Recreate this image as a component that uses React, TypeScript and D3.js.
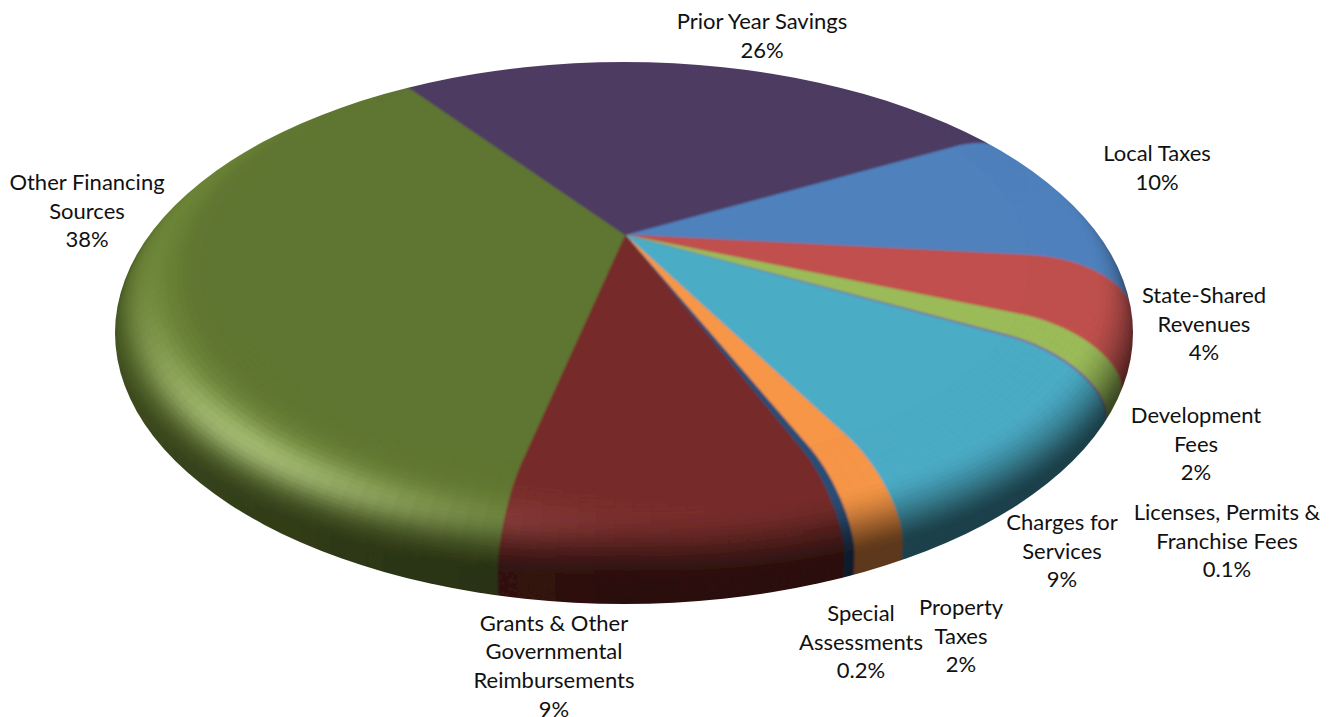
import React from "react";
import * as d3 from "d3";

const categories = ["Local Taxes","State-Shared Revenues","Development Fees","Licenses, Permits & Franchise Fees","Charges for Services","Property Taxes","Special Assessments","Grants & Other Governmental Reimbursements","Other Financing Sources","Prior Year Savings"];
const sliceShares = [9.5,4.5,1.6,0.1,9.2,1.5,0.3,9.7,36.4,27.1];
const sliceColors = ["#4F81BD","#C0504D","#9BBB59","#8064A2","#4BACC6","#F79646","#2C4D75","#772C2A","#5F7530","#4D3B62"];
const labelLines = [["Local Taxes","10%"],["State-Shared","Revenues","4%"],["Development","Fees","2%"],["Licenses, Permits &","Franchise Fees","0.1%"],["Charges for","Services","9%"],["Property","Taxes","2%"],["Special","Assessments","0.2%"],["Grants & Other","Governmental","Reimbursements","9%"],["Other Financing","Sources","38%"],["Prior Year Savings","26%"]];
const labelCenterX = [1157,1204,1196,1227,1062,961,861,554,87,762];
const labelFirstBaseline = [161,303,423,520,530,615,621,630.5,190,29];

const W = 1330, H = 717;
const LINE = 28.7;
const startFraction = 0.171;
const sil = { cx: 624, cy: 333, rx: 509, ry: 271 };
const top = { cx: 625, cy: 270, rx: 437, ry: 220, a: 0.16 };
const D = 55;
const RHO0 = 0.93;
const TAU = Math.PI * 2;
const rad = (deg: number) => (deg * Math.PI) / 180;
const sm = (e0: number, e1: number, x: number) => { const t = Math.max(0, Math.min(1, (x - e0) / (e1 - e0))); return t * t * (3 - 2 * t); };

function proj(theta: number, rho: number, phi: number): [number, number] {
  const u = rho * Math.sin(theta), v = -rho * Math.cos(theta);
  const den = 1 - top.a * v;
  const vp = (v - top.a) / den;
  const up = (u * Math.sqrt(1 - top.a * top.a)) / den;
  return [top.cx + top.rx * up, top.cy + top.ry * vp + D * (1 - Math.cos(phi))];
}
const bevelWidth = (theta: number) => 0.165 + 0.065 * Math.abs(Math.sin(theta));
const profile = (phi: number) => (phi <= Math.PI / 2 ? Math.sin(phi) : 0.75 + 0.25 * Math.sin(phi));
const bevelPoint = (theta: number, phi: number) => proj(theta, RHO0 + bevelWidth(theta) * profile(phi), phi);

function shade(color: string, theta: number, phi: number) {
  const deg = (theta * 180) / Math.PI;
  const pd = (phi * 180) / Math.PI;
  const c = Math.cos(theta - rad(150));
  const leftness = Math.max(0, Math.sin(theta - Math.PI));
  const dk = Math.max(0, Math.min(0.62, 0.3 + 0.38 * c + 0.2 * leftness * leftness));
  const dark = 1 - dk * sm(38, 92, pd);
  const lift = 0.13 * leftness * sm(8, 40, pd);
  const d0 = ((deg - 224 + 540) % 360) - 180;
  const spec = 62 * Math.exp(-((d0 / 26) ** 2)) * Math.exp(-(((pd - 50) / 15) ** 2));
  const rgb = d3.rgb(color);
  const f = (ch: number) => Math.min(255, Math.round(ch * dark * (1 + lift) + spec));
  return d3.rgb(f(rgb.r), f(rgb.g), f(rgb.b)).formatHex();
}

const pieLayout = d3.pie<number>().sort(null).startAngle(startFraction * TAU).endAngle((startFraction + 1) * TAU);
const arcs = pieLayout(sliceShares);
const poly = d3.line<[number, number]>().x((d) => d[0]).y((d) => d[1]);
const closed = (pts: [number, number][]) => (poly(pts) || "") + "Z";
const PHI_MAX = rad(165);
const PHI_N = 48;
const phiSteps = d3.range(0, PHI_N + 1).map((i) => (i / PHI_N) * PHI_MAX);

export default function App() {
  const base: React.ReactNode[] = [];
  const flat: React.ReactNode[] = [];
  const mesh: React.ReactNode[][] = phiSteps.map(() => []);
  arcs.forEach((a, i) => {
    const n = Math.max(1, Math.ceil((a.endAngle - a.startAngle) / rad(2)));
    const thetas = d3.range(0, n + 1).map((k) => a.startAngle + ((a.endAngle - a.startAngle) * k) / n);
    const apex = proj(0, 0, 0);
    const col = sliceColors[i];
    const edge = shade(col, (a.startAngle + a.endAngle) / 2, PHI_MAX);
    const outer = thetas.map((t) => { const p = proj(t, 1, 0); return [apex[0] + (p[0] - apex[0]) * 1.8, apex[1] + (p[1] - apex[1]) * 1.8] as [number, number]; });
    base.push(<path key={i} d={closed([apex, ...outer])} fill={edge} stroke={edge} strokeWidth={0.5} />);
    flat.push(<path key={i} d={closed([apex, ...thetas.map((t) => proj(t, RHO0, 0))])} fill={col} stroke={col} strokeWidth={0.6} />);
    for (let p = 0; p < PHI_N; p++) {
      for (let k = 0; k < n; k++) {
        const t0 = thetas[k], t1 = thetas[k + 1], f0 = phiSteps[p], f1 = phiSteps[p + 1];
        const fill = shade(col, (t0 + t1) / 2, (f0 + f1) / 2);
        mesh[p].push(<path key={`${i}-${p}-${k}`} d={closed([bevelPoint(t0, f0), bevelPoint(t1, f0), bevelPoint(t1, f1), bevelPoint(t0, f1)])} fill={fill} stroke={fill} strokeWidth={0.7} />);
      }
    }
  });
  return (
    <svg width={W} height={H} viewBox={`0 0 ${W} ${H}`} style={{ position: "absolute", left: 0, top: 0 }}>
      <defs>
        <clipPath id="silhouette"><ellipse cx={sil.cx} cy={sil.cy} rx={sil.rx} ry={sil.ry} /></clipPath>
        <filter id="soft" filterUnits="userSpaceOnUse" x={0} y={0} width={W} height={H}><feGaussianBlur stdDeviation={0.8} /></filter>
      </defs>
      <rect width={W} height={H} fill="#fff" />
      <g clipPath="url(#silhouette)">
        <g filter="url(#soft)">
          {base}
          {[...mesh].reverse()}
          {flat}
        </g>
      </g>
      <g fontFamily="Lato, Carlito, sans-serif" fontSize={22} fill="#111" textAnchor="middle">
        {categories.map((c, i) => (
          <text key={c} x={labelCenterX[i]} y={labelFirstBaseline[i]}>
            {labelLines[i].map((l, j) => <tspan key={j} x={labelCenterX[i]} dy={j === 0 ? 0 : LINE}>{l}</tspan>)}
          </text>
        ))}
      </g>
    </svg>
  );
}
